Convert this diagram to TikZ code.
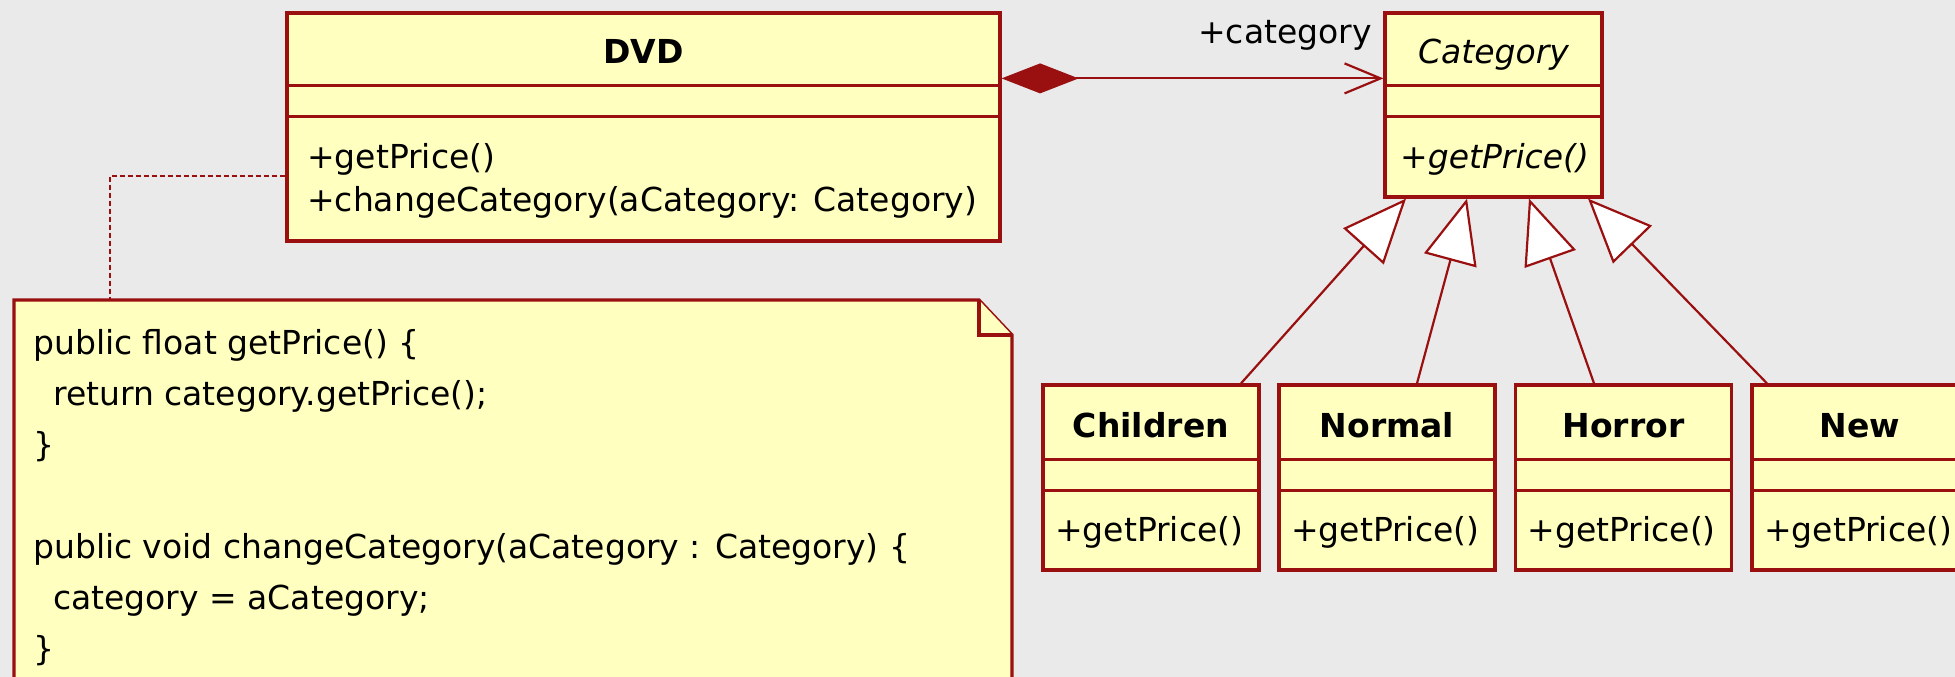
\documentclass[tikz,border=0pt]{standalone}
\usepackage{fontspec}
\setmainfont{DejaVu Sans}
\usetikzlibrary{arrows.meta}
\definecolor{umlred}{HTML}{9A1010}
\definecolor{umlfill}{HTML}{FFFFBF}
\definecolor{paper}{HTML}{EAEAEA}
\tikzset{
 classbox/.style={draw=umlred, fill=umlfill, line width=3.2pt, rectangle, inner sep=0pt},
 divider/.style={draw=umlred, line width=3pt},
 ctitle/.style={font=\fontsize{33}{40}\selectfont\bfseries, anchor=base, inner sep=0pt},
 cital/.style={font=\fontsize{33}{40}\selectfont\itshape, anchor=base, inner sep=0pt},
 optext/.style={font=\fontsize{33}{40}\selectfont, anchor=base west, inner sep=0pt},
 opital/.style={font=\fontsize{33}{40}\selectfont\itshape, anchor=base west, inner sep=0pt},
 notetext/.style={font=\fontsize{33}{40}\selectfont, anchor=base west, inner sep=0pt},
 notebox/.style={draw=umlred, fill=umlfill, line width=3.2pt, line join=miter},
 compo/.style={draw=umlred, line width=2.2pt, {Diamond[length=77pt,width=30pt,fill=umlred]}-{Straight Barb[length=36pt,width=30pt]}},
 gen/.style={draw=umlred, line width=2.2pt, -{Triangle[length=64pt,width=54pt,fill=white]}},
 notelink/.style={draw=umlred, line width=2pt, dash pattern=on 5pt off 3pt},
}
\begin{document}
\begin{tikzpicture}[x=1pt,y=-1pt]
\useasboundingbox (0,0) rectangle (1955,677);
\clip (0,0) rectangle (1955,677);
\fill[paper] (0,0) rectangle (1955,677);

% DVD class
\node[classbox, minimum width=713pt, minimum height=228pt] (dvd) at (643.5,127) {};
\draw[divider] ([yshift=-74pt]dvd.north west) -- ([yshift=-74pt]dvd.north east);
\draw[divider] ([yshift=-105pt]dvd.north west) -- ([yshift=-105pt]dvd.north east);
\node[ctitle] (dvdT) at (643.5,64) {DVD};
\node[optext] (dvdO1) at (307,168) {+getPrice()};
\node[optext] (dvdO2) at (307,211) {+changeCategory(aCategory: Category)};

% Category class
\node[classbox, minimum width=217pt, minimum height=184pt] (cat) at (1493.5,105) {};
\draw[divider] ([yshift=-74pt]cat.north west) -- ([yshift=-74pt]cat.north east);
\draw[divider] ([yshift=-105pt]cat.north west) -- ([yshift=-105pt]cat.north east);
\node[cital] (catT) at (1493.5,64) {Category};
\node[opital] (catO) at (1400,168) {+getPrice()};

% composition
\draw[compo] ([yshift=-67pt]dvd.north east) -- ([yshift=-67pt]cat.north west);
\node[font=\fontsize{33}{40}\selectfont, anchor=base east, inner sep=0pt] (role) at (1372,44) {+category};

% subclasses
\foreach \nm/\cx/\lab in {children/1151/Children, normal/1387/Normal, horror/1623.5/Horror, new/1860/New}{
  \node[classbox, minimum width=216pt, minimum height=185pt] (\nm) at (\cx,477.5) {};
  \draw[divider] ([yshift=-76pt]\nm.north west) -- ([yshift=-76pt]\nm.north east);
  \draw[divider] ([yshift=-107pt]\nm.north west) -- ([yshift=-107pt]\nm.north east);
  \node[ctitle] (\nm T) at (\cx,437) {\lab};
  \node[optext] (\nm O) at (\cx-96,541) {+getPrice()};
}

% generalizations
\draw[gen] ([xshift=90pt]children.north) -- ([xshift=-87.5pt]cat.south);
\draw[gen] ([xshift=30pt]normal.north) -- ([xshift=-26.5pt]cat.south);
\draw[gen] ([xshift=-29.5pt]horror.north) -- ([xshift=35.5pt]cat.south);
\draw[gen] ([xshift=-93pt]new.north) -- ([xshift=94.5pt]cat.south);

% note
\draw[notebox] (14,300) -- (979,300) -- (1012,335) -- (1012,700) -- (14,700) -- cycle;
\draw[notebox] (979,300) -- (979,335) -- (1012,335);
\coordinate (noteTop) at (110,300);
\node[notetext] (n1) at (33,354) {public float getPrice() \{};
\node[notetext] (n2) at (53,405) {return category.getPrice();};
\node[notetext] (n3) at (33,456) {\}};
\node[notetext] (n4) at (33,558) {public void changeCategory(aCategory : Category) \{};
\node[notetext] (n5) at (53,609) {category = aCategory;};
\node[notetext] (n6) at (33,660) {\}};

% note link
\draw[notelink] ([yshift=-49pt]dvd.west) -| (noteTop);
\end{tikzpicture}
\end{document}
